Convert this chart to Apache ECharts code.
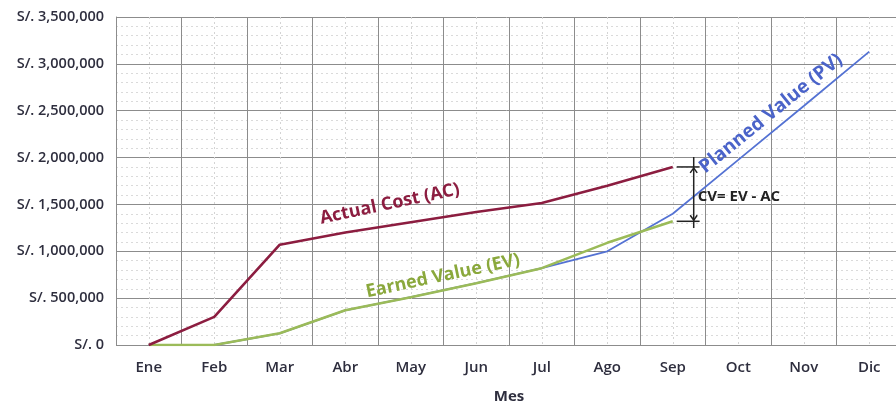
<!DOCTYPE html>
<html>
<head>
<meta charset="utf-8">
<title>Valor Ganado</title>
<script src="https://cdn.jsdelivr.net/npm/echarts@6/dist/echarts.min.js"></script>
<style>
html,body{margin:0;padding:0;background:#fff;}
#chart{width:896px;height:404px;}
</style>
</head>
<body>
<div id="chart"></div>
<script>
// datos
var meses = ['Ene', 'Feb', 'Mar', 'Abr', 'May', 'Jun', 'Jul', 'Ago', 'Sep', 'Oct', 'Nov', 'Dic'];
var actualCost = [0, 300000, 1070000, 1200000, 1310000, 1420000, 1515000, 1700000, 1900000, null, null, null];
var earnedValue = [0, 0, 125000, 370000, 510000, 660000, 820000, 1090000, 1320000, null, null, null];
var plannedValue = [0, 0, 125000, 370000, 510000, 660000, 820000, 1000000, 1400000, 1975000, 2550000, 3130000];
var etiquetas = ['Actual Cost (AC)', 'Earned Value (EV)', 'Planned Value (PV)'];
var textoCV = 'CV= EV - AC';

var colorAC = '#8c1d40';
var colorEV = '#9bbb59';
var colorPV = '#5472d3';
var fuente = '"Open Sans", "Noto Sans", sans-serif';

var myChart = echarts.init(document.getElementById('chart'));

// etiquetas sobre las curvas: [x (eje auxiliar), valor, indice, angulo, tamaño]
var posEtiquetas = [
    [4.18, 1505000, 0, 12, 18],
    [4.99, 736000, 1, 12, 18],
    [10.0, 2470000, 2, 39, 19]
];
var coloresEtiq = [colorAC, '#8aa83c', '#4a63c9'];

var option = {
    animation: false,
    grid: {left: 116, width: 786, top: 17, bottom: 59, containLabel: false, outerBoundsMode: 'none'},
    xAxis: [{
        type: 'category',
        data: meses,
        boundaryGap: true,
        name: 'Mes',
        nameLocation: 'middle',
        nameGap: 44,
        nameTextStyle: {fontFamily: fuente, fontWeight: 'bold', fontSize: 15, color: '#2e2e3e'},
        axisLine: {show: false},
        axisTick: {show: false},
        axisLabel: {fontFamily: fuente, fontWeight: 600, fontSize: 15, color: '#2e2e3e', margin: 15},
        splitLine: {show: true, interval: 0, lineStyle: {color: '#8c8c8c', width: 1}}
    }, {
        // eje auxiliar para anotaciones y rejilla menor vertical
        type: 'value',
        min: 0,
        max: 12,
        interval: 1,
        position: 'top',
        axisLine: {show: false},
        axisTick: {show: false},
        axisLabel: {show: false},
        splitLine: {show: false},
        minorTick: {show: false, splitNumber: 2},
        minorSplitLine: {show: true, lineStyle: {color: '#d4d4d4', type: [2, 3], width: 1}}
    }],
    yAxis: {
        type: 'value',
        min: 0,
        max: 3500000,
        interval: 500000,
        axisLine: {show: true, lineStyle: {color: '#8c8c8c'}},
        axisTick: {show: false},
        axisLabel: {
            fontFamily: fuente, fontWeight: 600, fontSize: 14.5, color: '#2e2e3e', margin: 12,
            formatter: function (v) {
                return 'S/. ' + v.toLocaleString('en-US');
            }
        },
        splitLine: {show: true, lineStyle: {color: '#8c8c8c', width: 1}},
        minorTick: {show: false, splitNumber: 5},
        minorSplitLine: {show: true, lineStyle: {color: '#dadada', type: [2, 3], width: 1}}
    },
    series: [{
        name: 'Planned Value (PV)',
        type: 'line',
        data: plannedValue,
        symbol: 'none',
        lineStyle: {color: colorPV, width: 1.8},
        z: 2
    }, {
        name: 'Earned Value (EV)',
        type: 'line',
        data: earnedValue,
        symbol: 'none',
        lineStyle: {color: colorEV, width: 2.6},
        z: 3
    }, {
        name: 'Actual Cost (AC)',
        type: 'line',
        data: actualCost,
        symbol: 'none',
        lineStyle: {color: colorAC, width: 2.6},
        z: 4
    }, {
        type: 'custom',
        xAxisIndex: 1,
        silent: true,
        data: posEtiquetas,
        renderItem: function (params, api) {
            var p = api.coord([api.value(0), api.value(1)]);
            var i = api.value(2);
            return {
                type: 'text',
                x: p[0],
                y: p[1],
                rotation: api.value(3) * Math.PI / 180,
                style: {
                    text: etiquetas[i],
                    fill: coloresEtiq[i],
                    font: 'bold ' + api.value(4) + 'px ' + fuente,
                    align: 'center',
                    verticalAlign: 'middle'
                }
            };
        },
        z: 5
    }, {
        // flecha CV = EV - AC
        type: 'custom',
        xAxisIndex: 1,
        silent: true,
        data: [[8.82]],
        renderItem: function (params, api) {
            var x = api.coord([api.value(0), 0])[0];
            var xi = api.coord([8.56, 0])[0];
            var xd = api.coord([8.91, 0])[0];
            var yTop = api.coord([0, 2006000])[1];
            var yBot = api.coord([0, 1248000])[1];
            var yAC = api.coord([0, actualCost[8]])[1];
            var yEV = api.coord([0, earnedValue[8]])[1];
            var yTxt = api.coord([0, 1580000])[1];
            var est = {stroke: '#222', lineWidth: 1.5, fill: 'none'};
            return {
                type: 'group',
                children: [
                    {type: 'line', shape: {x1: x, y1: yTop, x2: x, y2: yBot}, style: est},
                    {type: 'line', shape: {x1: xi, y1: yAC, x2: xd, y2: yAC}, style: est},
                    {type: 'line', shape: {x1: xi, y1: yEV, x2: xd, y2: yEV}, style: est},
                    {type: 'polyline', shape: {points: [[x - 3.5, yAC + 6], [x, yAC + 1], [x + 3.5, yAC + 6]]}, style: est},
                    {type: 'polyline', shape: {points: [[x - 3.5, yEV - 6], [x, yEV - 1], [x + 3.5, yEV - 6]]}, style: est},
                    {
                        type: 'text', x: x + 4, y: yTxt,
                        style: {text: textoCV, fill: '#222', font: 'bold 15px ' + fuente, align: 'left', verticalAlign: 'middle'}
                    }
                ]
            };
        },
        z: 6
    }]
};

myChart.setOption(option);
</script>
</body>
</html>
